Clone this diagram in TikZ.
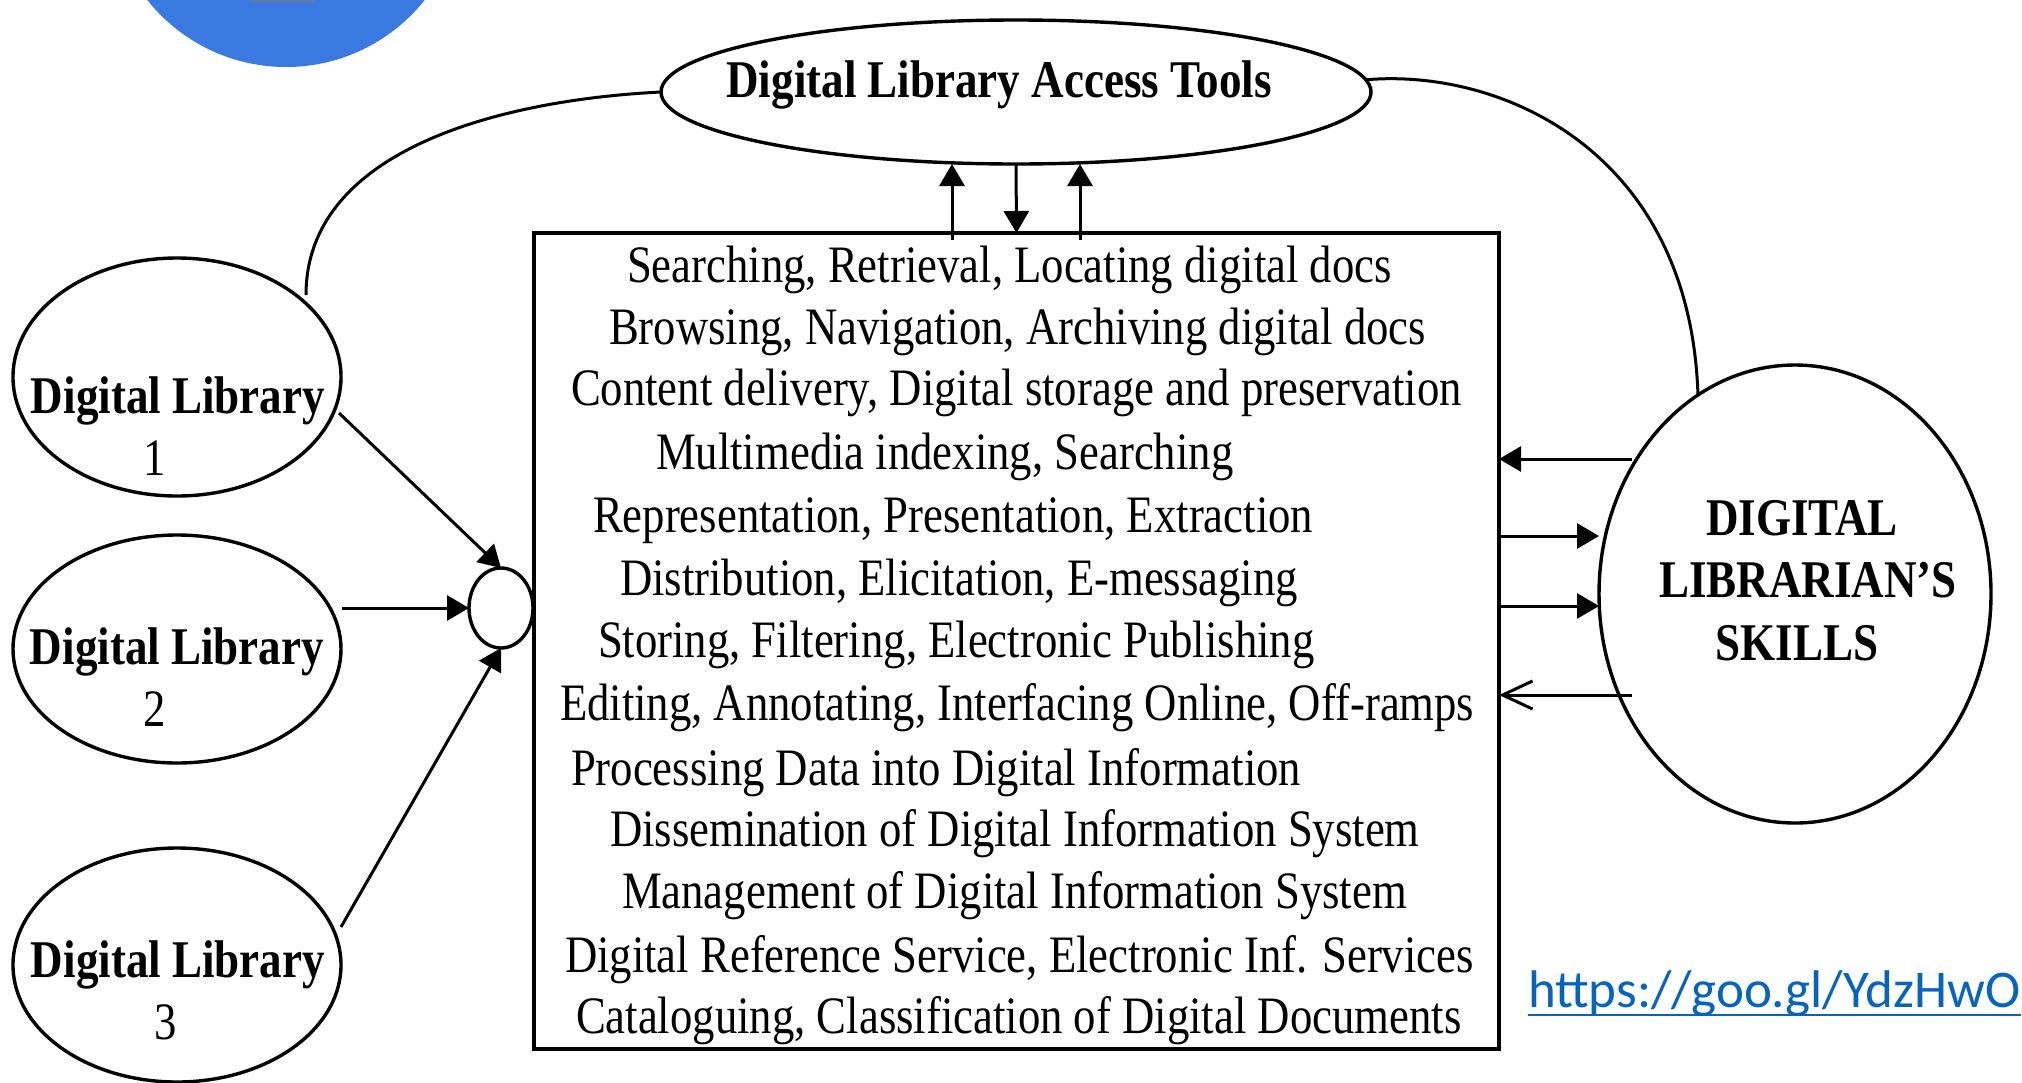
\documentclass[tikz,border=0pt]{standalone}
\usepackage{fontspec}
\usetikzlibrary{arrows.meta,shapes.geometric,calc}
\newfontfamily\figserif{Liberation Serif}[FakeStretch=0.85]
\newfontfamily\linkfont{Carlito}
\definecolor{discblue}{RGB}{58,121,223}
\definecolor{linkblue}{RGB}{5,99,193}

\begin{document}
\begin{tikzpicture}[x=0.5pt,y=-0.5pt,
  every node/.style={inner sep=0pt, outer sep=0pt},
  outline/.style={draw=black, line width=1.7pt},
  oval/.style={outline, ellipse},
  conn/.style={line width=1.5pt},
  tip/.style={conn, -{Triangle[length=11pt,width=12.5pt]}},
  barb/.style={conn, -{Straight Barb[length=15pt,width=14pt,line width=1.5pt]}},
  body/.style={font=\figserif\fontsize{26.3pt}{31.3pt}\selectfont},
  head/.style={font=\figserif\bfseries\fontsize{26.5pt}{31.3pt}\selectfont},
  linebox/.style={body, anchor=base west},
]
\useasboundingbox (0,0) rectangle (2022,1082);

% decorative disc in the top-left corner
\fill[discblue] (286,-110) circle[radius=177];
\fill[gray!60!discblue] (250,0) rectangle (315,2);

% central box with the list of activities
\node[outline, rectangle, minimum width=482.5pt, minimum height=408pt] (tbox) at (1016.5,641) {};
\foreach \xx/\yy/\tt [count=\k] in {
  627/282/{Searching, Retrieval, Locating digital docs},
  609/344/{Browsing, Navigation, Archiving digital docs},
  571/405/{Content delivery, Digital storage and preservation},
  656/469/{Multimedia indexing, Searching},
  593/532/{Representation, Presentation, Extraction},
  620/595/{Distribution, Elicitation, E-messaging},
  598/657/{Storing, Filtering, Electronic Publishing},
  560/720/{Editing, Annotating, Interfacing Online, Off-ramps},
  571/785/{Processing Data into Digital Information},
  610/846/{Dissemination of Digital Information System},
  622/908/{Management of Digital Information System},
  565/972/{Digital Reference Service, Electronic Inf. Services},
  576/1033/{Cataloguing, Classification of Digital Documents}}
  \node[linebox] (ln\k) at (\xx,\yy) {\tt};

% access tools
\node[oval, minimum width=355pt, minimum height=72pt] (acc) at (1016,92) {};
\node[head, anchor=base] (acctext) at (999,97) {Digital Library Access Tools};

% digital libraries
\node[oval, minimum width=164pt, minimum height=119pt] (dl1) at (177,377) {};
\node[oval, minimum width=164pt, minimum height=114pt] (dl2) at (177,649) {};
\node[oval, minimum width=164pt, minimum height=117pt] (dl3) at (177,965) {};
\node[head, anchor=base] (dl1a) at (178,413) {Digital Library};
\node[body, anchor=base] (dl1b) at (155,475) {1};
\node[head, anchor=base] (dl2a) at (177,664) {Digital Library};
\node[body, anchor=base] (dl2b) at (155,726) {2};
\node[head, anchor=base] (dl3a) at (178,977) {Digital Library};
\node[body, anchor=base] (dl3b) at (166,1039) {3};

% junction
\node[oval, minimum width=32pt, minimum height=40pt] (jn) at (501,608) {};

% librarian's skills
\node[oval, minimum width=196pt, minimum height=229pt] (skill) at (1795,594) {};
\node[head, anchor=base] (sk1) at (1802,535) {DIGITAL};
\node[head, anchor=base] (sk2) at (1808,597) {LIBRARIAN’S};
\node[head, anchor=base] (sk3) at (1797,660) {SKILLS};

% link
\node[font=\linkfont\fontsize{26.5pt}{30pt}\selectfont, text=linkblue, anchor=base west] (url) at (1528,1007) {https://goo.gl/YdzHwO};
\draw[linkblue, line width=1.3pt] ([yshift=-4pt]url.base west) -- ([yshift=-4pt]url.base east);

% box <-> access tools
\coordinate (u1) at (952,240);
\coordinate (u3) at (1080,240);
\draw[tip] (u1) -- (u1 |- acc.south);
\draw[tip] (u3) -- (u3 |- acc.south);
\draw[tip] (acc.south) -- (tbox.north);

% box <-> skills
\coordinate (r1) at (1632,459);
\coordinate (r2) at (1500,536);
\coordinate (r3) at (1500,606);
\coordinate (r4) at (1632,695);
\draw[tip] (r1) -- (r1 -| tbox.east);
\draw[tip] (r2 -| tbox.east) -- (r2 -| skill.west);
\draw[tip] (r3 -| tbox.east) -- (r3 -| skill.west);
\draw[barb] (r4) -- (r4 -| tbox.east);

% libraries -> junction
\draw[tip] ([shift={(162,36)}]dl1.center) -- (jn.north);
\draw[tip] ([shift={(165,-41)}]dl2.center) -- (jn.west);
\draw[tip] ([shift={(164,-38)}]dl3.center) -- (jn.south);

% outer links
\draw[conn] ([shift={(129,-82)}]dl1.center) .. controls (306,150) and (500,100) .. (acc.west);
\draw[conn] (acc.2) .. controls (1500,68) and (1690,150) .. (skill.116);
\end{tikzpicture}
\end{document}
